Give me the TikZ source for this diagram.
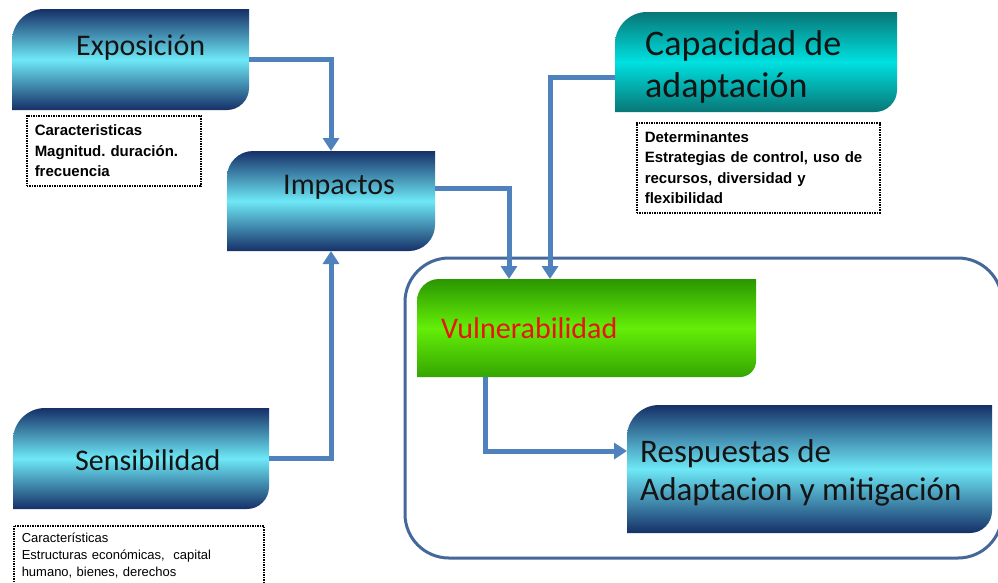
\documentclass[tikz,border=0pt]{standalone}
\usepackage{fontspec}
\setmainfont{Carlito}
\newfontfamily\capfont{Liberation Sans}
\usetikzlibrary{arrows.meta,calc}
\frenchspacing
\definecolor{navyD}{RGB}{22,48,104}
\definecolor{cyanL}{RGB}{110,232,246}
\definecolor{tealD}{RGB}{8,118,118}
\definecolor{tealL}{RGB}{0,224,224}
\definecolor{greenD}{RGB}{42,150,0}
\definecolor{greenB}{RGB}{52,165,0}
\definecolor{greenL}{RGB}{100,238,8}
\definecolor{arrowc}{RGB}{79,129,189}
\definecolor{framec}{RGB}{68,104,154}
\definecolor{redt}{RGB}{232,20,20}
\definecolor{txt}{RGB}{20,20,20}
\newcommand\diagshape[4]{%
 \path[#4] (#1.south west)
 -- ($(#1.north west)+(0,#2)$)
 .. controls ($(#1.north west)+(0,{0.45*#2})$) and ($(#1.north west)+({0.45*#2},0)$) .. ($(#1.north west)+(#2,0)$)
 -- (#1.north east)
 -- ($(#1.south east)+(0,-#3)$)
 .. controls ($(#1.south east)+(0,{-0.45*#3})$) and ($(#1.south east)+({-0.45*#3},0)$) .. ($(#1.south east)+(-#3,0)$)
 -- cycle;}
\tikzset{
 boxframe/.style={rectangle, inner sep=0pt, outer sep=0pt},
 title/.style={anchor=base west, inner sep=0pt, text=txt, font=\fontsize{30}{36}\selectfont},
 conn/.style={draw=arrowc, line width=5pt, -{Triangle[width=16pt,length=13pt]}},
 note/.style={draw=black, line width=1.5pt, dash pattern=on 1.5pt off 1pt, anchor=north west,
   align=left, inner xsep=8pt, inner ysep=0pt, font=\capfont\bfseries\fontsize{15}{20.5}\selectfont},
 cyanshade/.style={top color=navyD, bottom color=navyD, middle color=cyanL},
 tealshade/.style={top color=tealD, bottom color=tealD, middle color=tealL},
 greenshade/.style={top color=greenD, bottom color=greenB, middle color=greenL},
}
\begin{document}
\begin{tikzpicture}[x=1pt,y=-1pt]
\useasboundingbox (0,0) rectangle (998,582);
\clip (0,0) rectangle (998,582);
\fill[white] (0,0) rectangle (998,582);
% group frame
\node[boxframe, draw=framec, line width=3pt, rounded corners=44pt, minimum width=597pt, minimum height=300pt] (group) at (703.5,408) {};
% boxes
\node[boxframe, minimum width=237pt, minimum height=101pt] (expo) at (130.5,59.5) {};
\node[boxframe, minimum width=208pt, minimum height=100pt] (impact) at (331,201) {};
\node[boxframe, minimum width=256pt, minimum height=101pt] (sens) at (141,458.5) {};
\node[boxframe, minimum width=282pt, minimum height=100pt] (cap) at (756,62) {};
\node[boxframe, minimum width=339pt, minimum height=98pt] (vuln) at (586.5,328) {};
\node[boxframe, minimum width=365pt, minimum height=128pt] (resp) at (809.5,469) {};
\diagshape{expo}{32}{22}{cyanshade}
\diagshape{impact}{26}{26}{cyanshade}
\diagshape{sens}{32}{22}{cyanshade}
\diagshape{cap}{32}{22}{tealshade}
\diagshape{vuln}{22}{16}{greenshade}
\diagshape{resp}{32}{22}{cyanshade}
% titles
\node[title] (expoT) at (76,55) {Exposición};
\node[title] (impactT) at (283,194) {Impactos};
\node[title] (sensT) at (75,470) {Sensibilidad};
\node[title, align=left, font=\fontsize{36}{42}\selectfont] (capT) at (645,97) {Capacidad de\\adaptación};
\node[title, text=redt] (vulnT) at (441,338) {Vulnerabilidad};
\node[title, align=left, font=\fontsize{33}{38}\selectfont] (respT) at (640,500) {Respuestas de\\Adaptacion y mitigación};
% notes
\node[note, text width=158pt, minimum height=70pt] (expoN) at (26,115) {Caracteristicas\\Magnitud. duración.\\frecuencia};
\node[note, text width=227pt, minimum height=90pt] (capN) at (636,122) {Determinantes\\Estrategias de control, uso de\\recursos, diversidad y\\flexibilidad};
\node[note, text width=234pt, minimum height=60pt, font=\capfont\fontsize{13}{17}\selectfont] (sensN) at (13,525) {Características\\Estructuras económicas,~ capital\\humano, bienes, derechos};
% connectors
\draw[conn] (expo.east) -| (impact.north);
\draw[conn] (sens.east) -| (impact.south);
\draw[conn] ([yshift=13pt]impact.east) -| ([xshift=92pt]vuln.north west);
\draw[conn] ([yshift=-15pt]cap.west) -| ([xshift=133pt]vuln.north west);
\draw[conn] ([xshift=68pt]vuln.south west) |- ([yshift=18pt]resp.west);
\end{tikzpicture}
\end{document}
